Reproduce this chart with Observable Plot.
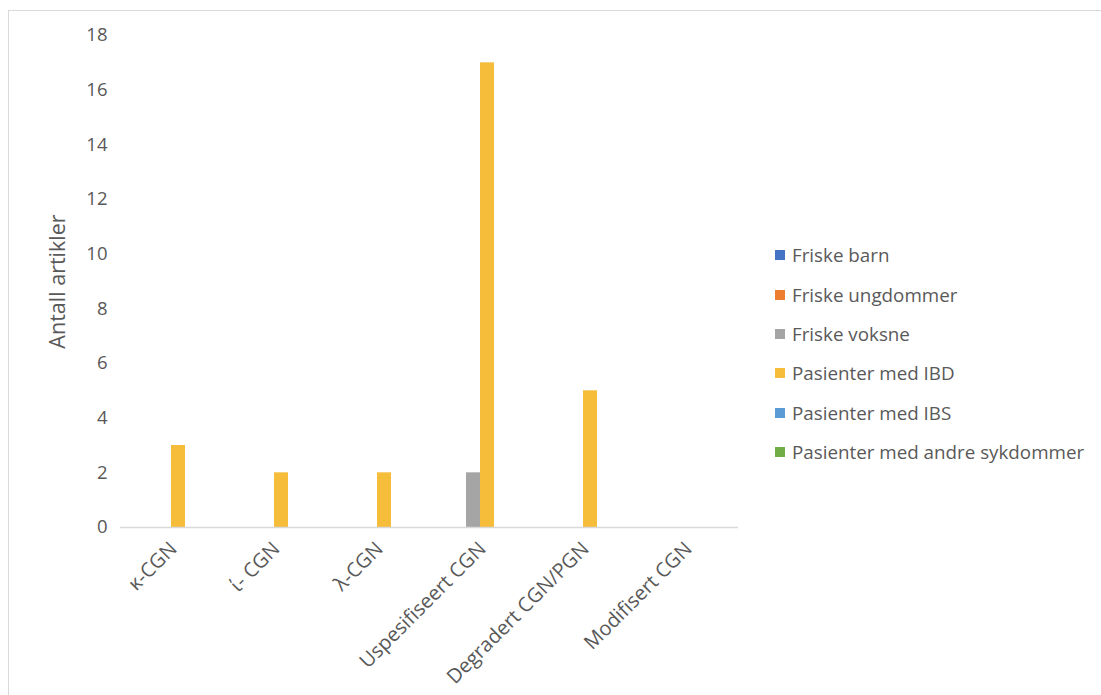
<!DOCTYPE html>
<html>
<head>
<meta charset="utf-8">
<script src="https://cdn.jsdelivr.net/npm/d3@7"></script>
<script src="https://cdn.jsdelivr.net/npm/@observablehq/plot@0.6"></script>
<style>
  html, body { margin: 0; padding: 0; background: #fff; }
  #wrap { position: relative; width: 1101px; height: 695px; overflow: hidden; font-family: "Open Sans", sans-serif; }
  #frame { position: absolute; left: 8px; top: 10px; width: 1200px; height: 800px; border-top: 1px solid #d9d9d9; border-left: 1px solid #d9d9d9; }
  #chart { position: absolute; left: 0; top: 0; }
  #legend { position: absolute; left: 775px; top: 235.5px; font-size: 18.8px; color: #595959; }
  #legend .item { height: 39.4px; display: flex; align-items: center; white-space: nowrap; }
  #legend .sw { width: 10px; height: 10px; margin-right: 7px; display: inline-block; }
</style>
</head>
<body>
<div id="wrap">
  <div id="frame"></div>
  <div id="chart"></div>
  <div id="legend"></div>
</div>
<script>
const categories = ["κ-CGN", "ί- CGN", "λ-CGN", "Uspesifiseert CGN", "Degradert CGN/PGN", "Modifisert CGN"];
const seriesNames = ["Friske barn", "Friske ungdommer", "Friske voksne", "Pasienter med IBD", "Pasienter med IBS", "Pasienter med andre sykdommer"];
const seriesColors = ["#4472C4", "#ED7D31", "#A5A5A5", "#F5BD3A", "#5B9BD5", "#70AD47"];
const friskeBarn       = [0, 0, 0, 0, 0, 0];
const friskeUngdommer  = [0, 0, 0, 0, 0, 0];
const friskeVoksne     = [0, 0, 0, 2, 0, 0];
const pasienterIBD     = [3, 2, 2, 17, 5, 0];
const pasienterIBS     = [0, 0, 0, 0, 0, 0];
const pasienterAndre   = [0, 0, 0, 0, 0, 0];
const yTicks = [0, 2, 4, 6, 8, 10, 12, 14, 16, 18];
const yLabel = "Antall artikler";

const seriesValues = [friskeBarn, friskeUngdommer, friskeVoksne, pasienterIBD, pasienterIBS, pasienterAndre];
const data = [];
categories.forEach((c, i) => {
  seriesNames.forEach((s, j) => {
    data.push({cat: c, series: s, value: seriesValues[j][i]});
  });
});

const marginLeft = 120, marginRight = 363, marginTop = 35, marginBottom = 168;
const chart = Plot.plot({
  width: 1101,
  height: 695,
  marginLeft, marginRight, marginTop, marginBottom,
  style: {fontFamily: "'Open Sans', sans-serif", fontSize: "18.5px", color: "#595959", background: "transparent"},
  fx: {domain: categories, paddingInner: 0.184, paddingOuter: 0.092, label: null},
  x: {domain: seriesNames, axis: null, padding: 0},
  y: {domain: [0, 18], ticks: yTicks, tickSize: 0, tickPadding: 22, label: yLabel, labelAnchor: "center", labelArrow: "none", labelOffset: 80},
  color: {domain: seriesNames, range: seriesColors},
  marks: [
    Plot.barY(data.filter(d => d.value > 0), {fx: "cat", x: "series", y: "value", fill: "series"}),
    Plot.axisFx({anchor: "bottom", tickRotate: -45, tickSize: 0, tickPadding: 18, dx: 2, label: null, fontSize: 20})
  ]
});
document.getElementById("chart").appendChild(chart);

// enlarge the y-axis title a little to match the reference
d3.select(chart).selectAll('g[aria-label="y-axis label"] text').style("font-size", "21.5px");

// baseline axis line across the whole plot
const y0 = chart.scale("y").apply(0);
d3.select(chart).append("line")
  .attr("x1", marginLeft).attr("x2", 1101 - marginRight)
  .attr("y1", y0 + 0.5).attr("y2", y0 + 0.5)
  .attr("stroke", "#d9d9d9").attr("stroke-width", 1.3);

const legend = document.getElementById("legend");
seriesNames.forEach((s, j) => {
  const item = document.createElement("div");
  item.className = "item";
  item.innerHTML = `<span class="sw" style="background:${seriesColors[j]}"></span><span>${s}</span>`;
  legend.appendChild(item);
});
</script>
</body>
</html>
